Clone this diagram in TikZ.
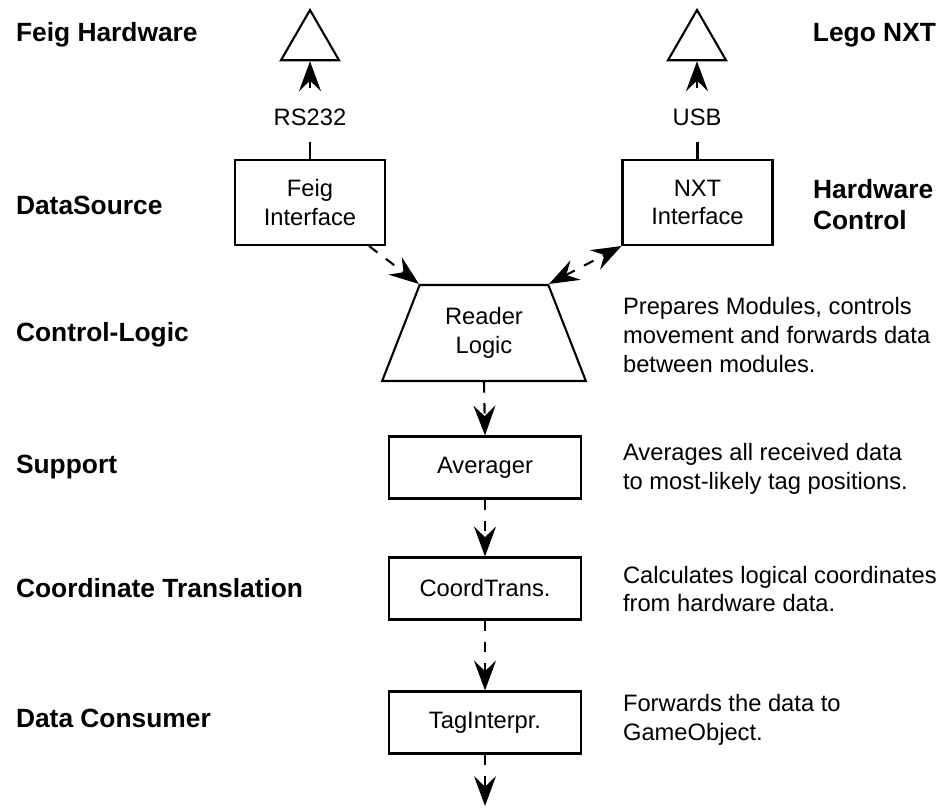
\documentclass[tikz,border=0pt]{standalone}
\usepackage{fontspec}
\setmainfont{Liberation Sans}
\usetikzlibrary{arrows.meta,shapes.geometric}
\begin{document}
\begin{tikzpicture}[
      x=0.02cm, y=-0.02cm,
      line width=1.2pt,
      every node/.style={font=\fontsize{13.5}{16.4}\selectfont},
      layer/.style={font=\fontsize{15}{17.6}\selectfont\bfseries, anchor=west, align=left, inner sep=0pt},
      note/.style={anchor=west, align=left, inner sep=0pt},
      module/.style={draw, minimum width=3.84cm, minimum height=1.24cm, align=center},
      iface/.style={draw, minimum width=3cm, minimum height=1.7cm, align=center},
      device/.style={draw, regular polygon, regular polygon sides=3, minimum size=1.34cm, inner sep=0pt},
      link/.style={-{Stealth[length=17pt,width=12.5pt,inset=6pt]}},
      flow/.style={dash pattern=on 6pt off 6pt, -{Stealth[length=17pt,width=12.5pt,inset=6pt]}},
      biflow/.style={dash pattern=on 6pt off 6pt, {Stealth[length=17pt,width=12.5pt,inset=6pt]}-{Stealth[length=17pt,width=12.5pt,inset=6pt]}},
    ]

    \useasboundingbox (0,0) rectangle (942,807);

    % layer names
    \node[layer] (feighw) at (15,35) {Feig Hardware};
    \node[layer, anchor=east] (legonxt) at (937,35) {Lego NXT};
    \node[layer] (datasrc) at (15,205) {DataSource};
    \node[layer] (hwctrl) at (812,205) {Hardware\\Control};
    \node[layer] (ctrllogic) at (15,335) {Control-Logic};
    \node[layer] (support) at (15,467) {Support};
    \node[layer] (coordtr) at (15,588) {Coordinate Translation};
    \node[layer] (consumer) at (15,718) {Data Consumer};

    % hardware
    \node[device] (feigdev) at (310,43.5) {};
    \node[device] (nxtdev) at (697,43.5) {};
    \node (rs232) at (310,117) {RS232};
    \node (usb) at (697,117) {USB};
    \coordinate (rstail) at (310,88);
    \coordinate (usbtail) at (697,88);

    \node[iface] (feig) at (310,202.5) {Feig\\Interface};
    \node[iface] (nxt) at (697.5,202.5) {NXT\\Interface};

    \node[draw, trapezium, trapezium stretches=true, trapezium angle=67.4, minimum width=4.08cm, minimum height=1.92cm, align=center] (reader) at (484,333) {Reader\\Logic};

    \node[module] (averager) at (485,467.5) {Averager};
    \node[module] (coordtrans) at (485,588.5) {CoordTrans.};
    \node[module] (taginterp) at (485,722.5) {TagInterpr.};
    \coordinate (out) at (485,806);

    % descriptions
    \node[note] (readernote) at (622,335) {Prepares Modules, controls\\movement and forwards data\\between modules.};
    \node[note] (avgnote) at (622,469) {Averages all received data\\to most-likely tag positions.};
    \node[note] (coordnote) at (622,589) {Calculates logical coordinates\\from hardware data.};
    \node[note] (tagnote) at (622,720) {Forwards the data to\\GameObject.};

    \draw[link] (rstail) -- (feigdev.south);
    \draw[link] (usbtail) -- (nxtdev.south);
    \draw (feig.north) -- ++(0,-17);
    \draw (nxt.north) -- ++(0,-17);

    \draw[flow] ([xshift=-0.34cm]feig.south east) -- (reader.top left corner);
    \draw[biflow] (reader.top right corner) -- (nxt.south west);
    \draw[flow] (reader.south) -- (averager.north);
    \draw[flow] (averager.south) -- (coordtrans.north);
    \draw[flow] (coordtrans.south) -- (taginterp.north);
    \draw[flow] (taginterp.south) -- (out);

  \end{tikzpicture}
\end{document}
